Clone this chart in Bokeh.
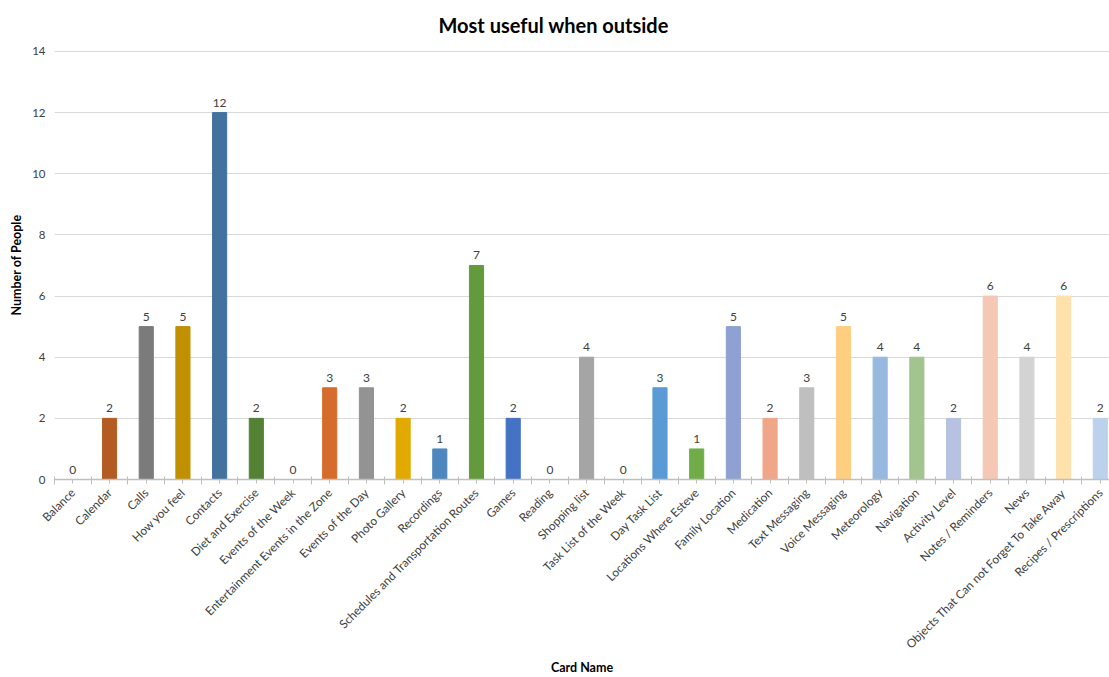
from math import pi

from bokeh.core.properties import value
from bokeh.embed import file_html
from bokeh.models import (ColumnDataSource, CustomJSTickFormatter, FixedTicker,
                          LabelSet, Range1d)
from bokeh.plotting import figure
from bokeh.resources import INLINE

# Survey results: how many people found each card most useful when outside
cards = [
    "Balance", "Calendar", "Calls", "How you feel", "Contacts",
    "Diet and Exercise", "Events of the Week", "Entertainment Events in the Zone",
    "Events of the Day", "Photo Gallery", "Recordings",
    "Schedules and Transportation Routes", "Games", "Reading", "Shopping list",
    "Task List of the Week", "Day Task List", "Locations Where Esteve",
    "Family Location", "Medication", "Text Messaging", "Voice Messaging",
    "Meteorology", "Navigation", "Activity Level", "Notes / Reminders", "News",
    "Objects That Can not Forget To Take Away", "Recipes / Prescriptions",
]
people = [0, 2, 5, 5, 12, 2, 0, 3, 3, 2, 1, 7, 2, 0, 4, 0, 3, 1, 5, 2, 3, 5,
          4, 4, 2, 6, 4, 6, 2]
y_ticks = [0, 2, 4, 6, 8, 10, 12, 14]
title_text = "Most useful when outside"

bar_colors = [
    "#5B9BD5", "#B35B22", "#7B7B7B", "#C09000", "#43729E", "#548235",
    "#A5A5A5", "#D56C2B", "#939393", "#E2A900", "#4D87BD", "#639A3C",
    "#4472C4", "#ED7D31", "#A5A5A5", "#FFC000", "#5B9BD5", "#70AD47",
    "#8FA1D3", "#F0A688", "#BFBFBF", "#FFCE80", "#97B9E0", "#A2C48E",
    "#B7C2E2", "#F5C7B5", "#D3D3D3", "#FFE1AC", "#BCD2EC",
]

FONT = "Lato"
n = len(cards)
centers = [i + 0.5 for i in range(n)]

source = ColumnDataSource(dict(
    x=centers,
    top=people,
    color=bar_colors,
    label=[str(v) for v in people],
))

# the chart area is wider than the page, so the last category sits at the edge
p = figure(
    width=1109, height=677,
    x_range=Range1d(0, 28.75), y_range=Range1d(0, y_ticks[-1] + 0.03),
    output_backend="svg", toolbar_location=None, tools="",
    min_border_left=54, min_border_right=0, min_border_top=50,
    min_border_bottom=198,
)

p.title.text = title_text
p.title.align = "left"
p.title.offset = 384
p.title.vertical_align = "top"
p.title.text_font = FONT
p.title.text_font_size = "20px"
p.title.text_font_style = "bold"
p.title.text_color = "#000000"
p.title.standoff = 23

p.vbar(x="x", top="top", width=0.385, color="color", source=source)

labels = LabelSet(x="x", y="top", text="label", source=source,
                  text_align="center", text_baseline="bottom", y_offset=6,
                  text_font=value(FONT), text_font_size=value("12px"),
                  text_color=value("#404040"))
p.add_layout(labels)

# horizontal axis: labels at category centres, boundary ticks as minor ticks
xa = p.xaxis[0]
xa.ticker = FixedTicker(ticks=centers, minor_ticks=list(range(n)))
xa.formatter = CustomJSTickFormatter(
    args=dict(names=cards),
    code="return names[Math.round(tick - 0.5)] || '';")
xa.major_label_orientation = pi / 4
xa.major_label_text_font = FONT
xa.major_label_text_font_size = "11.8px"
xa.major_label_text_color = "#404040"
xa.major_label_standoff = 6
xa.axis_line_color = "#BFBFBF"
xa.axis_line_width = 1.3
xa.major_tick_line_color = "#BFBFBF"
xa.major_tick_in = 0
xa.major_tick_out = 4
xa.minor_tick_line_color = "#BFBFBF"
xa.minor_tick_in = 3
xa.minor_tick_out = 5
xa.axis_label = "Card Name"
xa.axis_label_text_font = FONT
xa.axis_label_text_font_size = "12.5px"
xa.axis_label_text_font_style = "bold"
xa.axis_label_text_color = "#000000"
xa.axis_label_standoff = 0

ya = p.yaxis[0]
ya.ticker = FixedTicker(ticks=y_ticks)
ya.axis_line_color = None
ya.major_tick_line_color = None
ya.minor_tick_line_color = None
ya.major_tick_in = 0
ya.major_tick_out = 0
ya.minor_tick_in = 0
ya.minor_tick_out = 0
ya.major_label_text_font = FONT
ya.major_label_text_font_size = "11.5px"
ya.major_label_text_color = "#404040"
ya.major_label_standoff = 9
ya.axis_label = "Number of People"
ya.axis_label_text_font = FONT
ya.axis_label_text_font_size = "12.5px"
ya.axis_label_text_font_style = "bold"
ya.axis_label_text_color = "#000000"
ya.axis_label_standoff = 5

p.xgrid.grid_line_color = None
p.ygrid.grid_line_color = "#D9D9D9"
p.ygrid.grid_line_width = 1.2
p.outline_line_color = None
p.background_fill_color = "white"
p.border_fill_color = "white"

open("out.html", "w").write(file_html(p, INLINE))
